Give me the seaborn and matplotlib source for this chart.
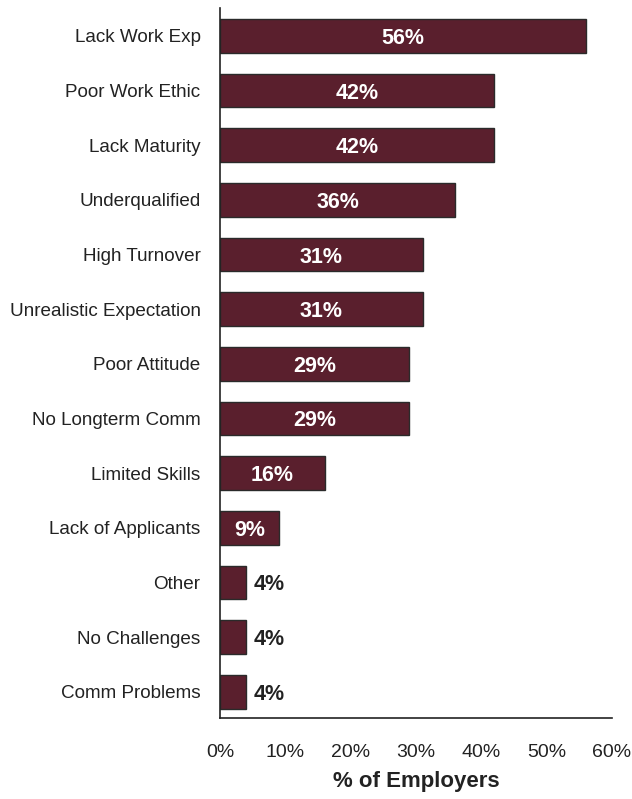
import matplotlib
matplotlib.use("Agg")
import matplotlib.pyplot as plt
import seaborn as sns
import pandas as pd

categories = ["Lack Work Exp", "Poor Work Ethic", "Lack Maturity", "Underqualified",
              "High Turnover", "Unrealistic Expectation", "Poor Attitude",
              "No Longterm Comm", "Limited Skills", "Lack of Applicants",
              "Other", "No Challenges", "Comm Problems"]
values = [56, 42, 42, 36, 31, 31, 29, 29, 16, 9, 4, 4, 4]
tick_values = [0, 10, 20, 30, 40, 50, 60]
tick_labels = ["0%", "10%", "20%", "30%", "40%", "50%", "60%"]

df = pd.DataFrame({"reason": categories, "pct": values})

sns.set_theme(style="white")
plt.rcParams["font.family"] = ["Liberation Sans", "DejaVu Sans"]

fig = plt.figure(figsize=(6.32, 7.99), dpi=100)
ax = fig.add_axes([220 / 632, 1 - 718 / 799, 392 / 632, 710 / 799])

bar_color = "#5a1f2d"
sns.barplot(data=df, x="pct", y="reason", orient="h", color=bar_color,
            width=0.62, edgecolor="#2a2a2a", linewidth=1.0, saturation=1, ax=ax)

ax.set_xlim(0, 60)
ax.set_ylim(12.48, -0.51)
ax.set_xticks(tick_values)
ax.set_xticklabels(tick_labels, fontsize=14, color="#222222")
ax.tick_params(axis="x", length=0, pad=19)
ax.tick_params(axis="y", length=0, pad=14, labelsize=13.6, labelcolor="#222222")
ax.set_ylabel("")
ax.set_xlabel("% of Employers", fontsize=16, fontweight="bold", color="#222222", labelpad=7)

for side in ["top", "right"]:
    ax.spines[side].set_visible(False)
for side in ["left", "bottom"]:
    ax.spines[side].set_color("#222222")
    ax.spines[side].set_linewidth(1.2)

for i, v in enumerate(values):
    if v >= 8:
        ax.text(v / 2, i, f"{v}%", ha="center", va="center_baseline", color="white",
                fontsize=15.5, fontweight="bold")
    else:
        ax.text(v + 1.2, i, f"{v}%", ha="left", va="center_baseline", color="#222222",
                fontsize=15.5, fontweight="bold")

fig.savefig("out.png", dpi=100)
